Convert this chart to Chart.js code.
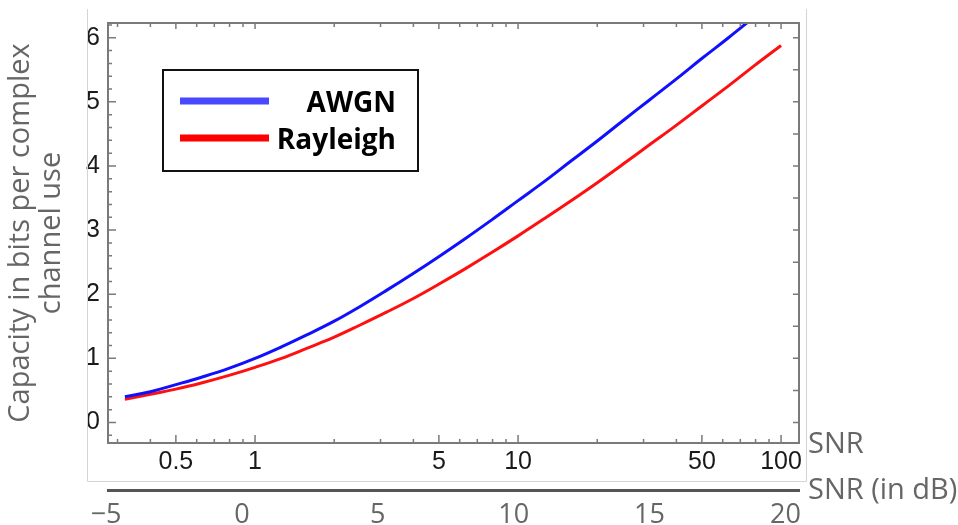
<!DOCTYPE html>
<html>
<head>
<meta charset="utf-8">
<script src="https://cdn.jsdelivr.net/npm/chart.js@4.4.1/dist/chart.umd.min.js"></script>
<style>
  html, body { margin: 0; padding: 0; background: #fff; }
</style>
</head>
<body>
<canvas id="chart" width="958" height="525"></canvas>
<script>
// SNR (linear) sample points, -5 dB .. 20 dB in 1 dB steps
const snr = [0.32, 0.40, 0.50, 0.63, 0.79, 1.00, 1.26, 1.58, 2.00, 2.51, 3.16, 3.98, 5.01,
  6.31, 7.94, 10.0, 12.6, 15.8, 20.0, 25.1, 31.6, 39.8, 50.1, 63.1, 79.4, 100];
// capacity in bits per complex channel use
const awgnCapacity = [0.40, 0.48, 0.59, 0.71, 0.84, 1.00, 1.18, 1.37, 1.58, 1.81, 2.06, 2.32, 2.59,
  2.87, 3.16, 3.46, 3.76, 4.07, 4.39, 4.71, 5.03, 5.35, 5.68, 6.00, 6.33, 6.66];
const rayleighCapacity = [0.36, 0.44, 0.52, 0.62, 0.73, 0.86, 1.00, 1.16, 1.33, 1.52, 1.72, 1.93, 2.16,
  2.40, 2.65, 2.91, 3.18, 3.45, 3.74, 4.03, 4.33, 4.63, 4.94, 5.25, 5.57, 5.88];
const seriesNames = ["AWGN", "Rayleigh"];

// axis ticks
const snrTickLabels = [0.5, 1, 5, 10, 50, 100];
const snrMinorTicks = [0.3, 0.4, 0.6, 0.7, 0.8, 0.9, 2, 3, 4, 6, 7, 8, 9, 20, 30, 40, 60, 70, 80, 90];
const dbTickLabels = [-5, 0, 5, 10, 15, 20];
const capacityTicks = [0, 1, 2, 3, 4, 5, 6];

const grey = "#666";
const frameColor = "#7a7a7a";
const lineColors = ["#1010ff", "#ff1010"];
const legendColors = ["#4848ff", "#ff0000"];

// mathematica style frame with inward ticks on all four sides
const framePlugin = {
  id: "frame",
  afterDatasetsDraw(chart) {
    const { ctx, chartArea: a, scales: { x, y } } = chart;
    ctx.save();
    ctx.strokeStyle = frameColor;
    ctx.lineWidth = 1.5;
    ctx.beginPath();
    const seg = (x1, y1, x2, y2) => { ctx.moveTo(x1, y1); ctx.lineTo(x2, y2); };
    snrTickLabels.forEach((v) => {
      const px = x.getPixelForValue(v);
      seg(px, a.bottom, px, a.bottom - 8);
      seg(px, a.top, px, a.top + 6);
    });
    snrMinorTicks.forEach((v) => {
      const px = x.getPixelForValue(v);
      seg(px, a.bottom, px, a.bottom - 4);
      seg(px, a.top, px, a.top + 4);
    });
    for (let k = -1; k <= 31; k++) {
      const v = k / 5;
      const py = y.getPixelForValue(v);
      if (py < a.top || py > a.bottom) continue;
      seg(a.left, py, a.left + (k % 5 === 0 ? 8 : 4), py);
    }
    for (let k = 0; k <= 12; k++) {
      const py = y.getPixelForValue(k / 2);
      seg(a.right, py, a.right - 6, py);
    }
    ctx.stroke();
    ctx.lineWidth = 2;
    ctx.strokeRect(a.left, a.top, a.right - a.left, a.bottom - a.top);
    ctx.restore();
  },
  afterDraw(chart) {
    const { ctx } = chart;
    ctx.save();
    // faint picture border
    ctx.strokeStyle = "#d4d4d4";
    ctx.lineWidth = 1;
    ctx.beginPath();
    ctx.moveTo(87.5, 9);
    ctx.lineTo(87.5, 481.5);
    ctx.lineTo(806.5, 481.5);
    ctx.lineTo(806.5, 9);
    ctx.stroke();

    // axis names on the right
    ctx.fillStyle = grey;
    ctx.font = "29px 'Open Sans'";
    ctx.textBaseline = "middle";
    ctx.textAlign = "left";
    ctx.fillText("SNR", 808, 445);
    ctx.fillText("SNR (in dB)", 808, 491);

    // legend box
    const bx = 163, by = 70, bw = 255, bh = 101;
    ctx.fillStyle = "#fff";
    ctx.fillRect(bx, by, bw, bh);
    ctx.strokeStyle = "#111";
    ctx.lineWidth = 2;
    ctx.strokeRect(bx, by, bw, bh);
    ctx.font = "bold 28px 'Open Sans'";
    ctx.textAlign = "right";
    ctx.textBaseline = "alphabetic";
    seriesNames.forEach((name, i) => {
      const ly = 101 + i * 37;
      ctx.strokeStyle = legendColors[i];
      ctx.lineWidth = 7;
      ctx.beginPath();
      ctx.moveTo(180, ly);
      ctx.lineTo(269, ly);
      ctx.stroke();
      ctx.fillStyle = "#000";
      ctx.fillText(name, 396, ly + 11);
    });
    ctx.restore();
  }
};

const toPoints = (ys) => snr.map((s, i) => ({ x: s, y: ys[i] }));

new Chart(document.getElementById("chart"), {
  type: "line",
  data: {
    datasets: [
      { label: seriesNames[0], data: toPoints(awgnCapacity), borderColor: lineColors[0] },
      { label: seriesNames[1], data: toPoints(rayleighCapacity), borderColor: lineColors[1] },
    ],
  },
  options: {
    responsive: false,
    animation: false,
    layout: { padding: { left: 0, top: 16, right: 159, bottom: 0 } },
    elements: {
      point: { radius: 0 },
      line: { borderWidth: 3, tension: 0.4, fill: false },
    },
    scales: {
      x: {
        type: "logarithmic",
        position: "bottom",
        min: 0.276,
        max: 117,
        afterBuildTicks: (s) => { s.ticks = snrTickLabels.map((v) => ({ value: v })); },
        afterFit: (s) => { s.height = 47; },
        grid: { display: false, drawTicks: false },
        border: { display: false },
        ticks: {
          autoSkip: false,
          maxRotation: 0,
          padding: 4,
          color: "#1a1a1a",
          font: { family: "Liberation Sans", size: 25 },
          callback: (v) => String(v),
        },
      },
      xdb: {
        type: "linear",
        position: "bottom",
        min: -4.93,
        max: 20.5,
        afterBuildTicks: (s) => { s.ticks = dbTickLabels.map((v) => ({ value: v })); },
        afterFit: (s) => { s.height = 35; },
        grid: { display: false, drawTicks: false },
        border: { display: true, color: "#555", width: 3 },
        ticks: {
          autoSkip: false,
          maxRotation: 0,
          padding: 9,
          color: grey,
          font: { family: "Open Sans", size: 27 },
          callback: (v) => (v < 0 ? "\u2212" + Math.abs(v) : String(v)),
        },
      },
      y: {
        min: -0.32,
        max: 6.23,
        afterBuildTicks: (s) => { s.ticks = capacityTicks.map((v) => ({ value: v })); },
        afterFit: (s) => { s.width = 108; },
        grid: { display: false, drawTicks: false },
        border: { display: false },
        ticks: {
          padding: 8,
          color: "#1a1a1a",
          font: { family: "Liberation Sans", size: 25 },
        },
        title: {
          display: true,
          text: ["Capacity in bits per complex", "channel use"],
          color: grey,
          font: { family: "Open Sans", size: 29, lineHeight: 1.07 },
          padding: { top: 5, bottom: 0 },
        },
      },
    },
    plugins: {
      legend: { display: false },
      tooltip: { enabled: false },
    },
  },
  plugins: [framePlugin],
});
</script>
</body>
</html>
